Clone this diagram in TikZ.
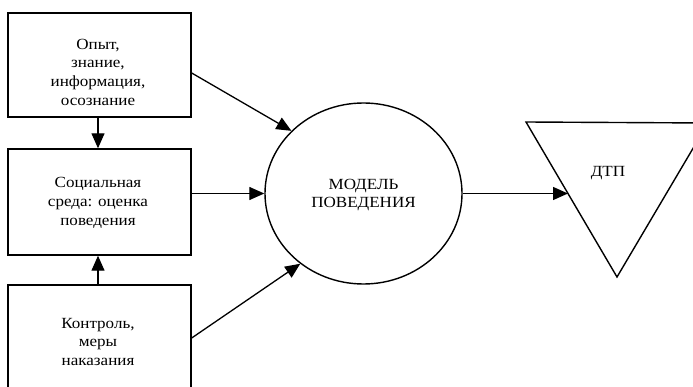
\documentclass[tikz,border=0pt]{standalone}
\usepackage{fontspec}
\setmainfont[FakeStretch=1.1]{Liberation Serif}
\usetikzlibrary{shapes.geometric,arrows.meta}
\begin{document}
\begin{tikzpicture}[x=1pt,y=-1pt,
  box/.style={draw,line width=1.4pt,rectangle,inner sep=0pt},
  lbl/.style={align=center,font=\fontsize{15.5}{18.7}\selectfont,inner sep=0pt},
  arr/.style={line width=1.3pt,-{Triangle[length=15pt,width=13pt]}}]
\useasboundingbox (0,0) rectangle (693,387);
\clip (0,0) rectangle (693,387);
\node[box,minimum width=183pt,minimum height=104pt] (b1) at (99.5,65) {};
\node[box,minimum width=183pt,minimum height=106pt] (b2) at (99.5,202) {};
\node[box,minimum width=183pt,minimum height=115pt] (b3) at (99.5,342.5) {};
\node[lbl] (t1) at (98,72) {Опыт,\\знание,\\информация,\\осознание};
\node[lbl] (t2) at (98,203) {Социальная\\среда: оценка\\поведения};
\node[lbl] (t3) at (98,342) {Контроль,\\меры\\наказания};
\node[draw,ellipse,line width=1.4pt,minimum width=197pt,minimum height=181pt,inner sep=0pt] (m) at (363.5,193.5) {};
\node[lbl] (tm) at (363.5,195) {МОДЕЛЬ\\ПОВЕДЕНИЯ};
\draw[line width=1.4pt,line join=miter] (526,122) -- (708,123) -- (617,277) -- cycle;
\coordinate (tri) at (568,193.5);
\node[lbl] (td) at (608,173) {ДТП};
\draw[arr] (b1.south -| 98,0) -- (b2.north -| 98,0);
\draw[arr] (b3.north -| 98,0) -- (b2.south -| 98,0);
\draw[arr] ([yshift=-8pt]b1.east) -- (m.139);
\draw[arr] (b2.east |- m.west) -- (m.west);
\draw[arr] ([yshift=4.5pt]b3.east) -- (m.228);
\draw[arr] (m.east) -- (tri);
\end{tikzpicture}
\end{document}
